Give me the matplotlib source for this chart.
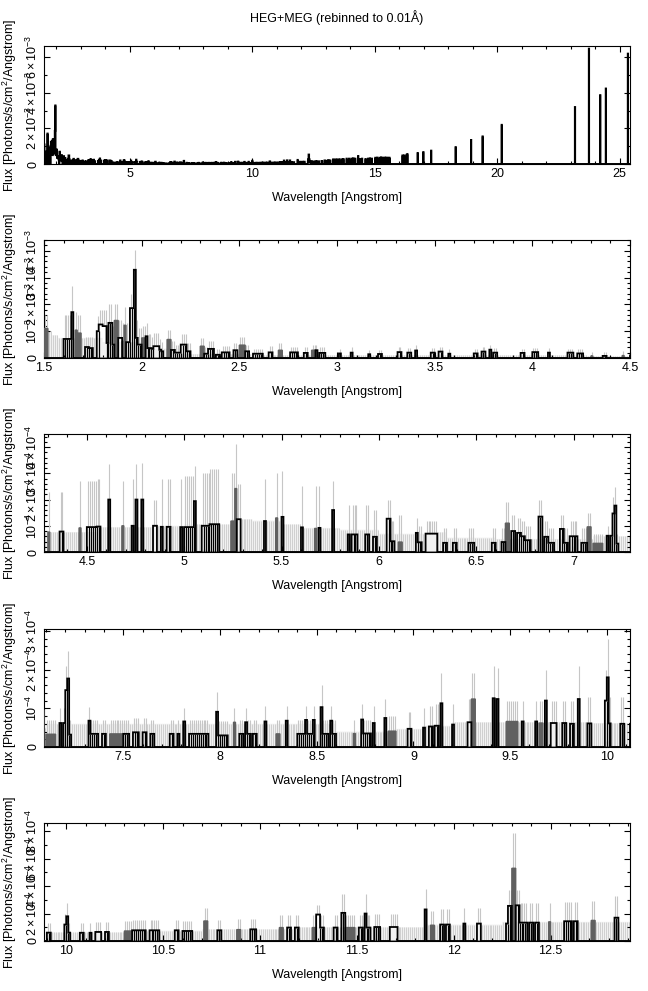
import numpy as np
import matplotlib
matplotlib.use("Agg")
import matplotlib.pyplot as plt
from matplotlib.ticker import MultipleLocator, FuncFormatter

#-------------------------------------------------#
#--------------Fonts / style----------------------#
#-------------------------------------------------#

plt.rcParams['font.family'] = ['Liberation Sans', 'DejaVu Sans']
plt.rcParams['mathtext.fontset'] = 'custom'
plt.rcParams['mathtext.rm'] = 'Liberation Sans'
plt.rcParams['mathtext.it'] = 'Liberation Sans:italic'
plt.rcParams['mathtext.bf'] = 'Liberation Sans:bold'

#-------------------------------------------------#
#--------------Data--------#
#-------------------------------------------------#
# every segment is a run of 0.01 A bins: [lo, hi) at flux val, error bar up to top

# 1.5 - 4.3 A, units of 1e-3
blkA_lo  = [1.60, 1.64, 1.71, 1.73, 1.77, 1.78, 1.80, 1.82, 1.83, 1.85, 1.88, 1.92, 1.94, 1.96, 1.97, 1.98,
            2.02, 2.03, 2.05, 2.06, 2.09, 2.10, 2.15, 2.17, 2.20, 2.23, 2.32, 2.34, 2.38, 2.41, 2.47, 2.53,
            2.57, 2.65, 2.76, 2.83, 2.89, 2.91, 3.01, 3.07, 3.16, 3.21, 3.31, 3.36, 3.40, 3.48, 3.52, 3.57,
            3.70, 3.74, 3.78, 3.80, 3.94, 4.00, 4.08, 4.18, 4.23]
blkA_hi  = [1.64, 1.65, 1.73, 1.75, 1.78, 1.80, 1.82, 1.83, 1.85, 1.86, 1.90, 1.94, 1.96, 1.97, 1.98, 2.00,
            2.03, 2.05, 2.06, 2.09, 2.10, 2.11, 2.17, 2.20, 2.23, 2.25, 2.34, 2.37, 2.40, 2.45, 2.49, 2.55,
            2.62, 2.67, 2.80, 2.85, 2.90, 2.94, 3.02, 3.08, 3.17, 3.23, 3.33, 3.38, 3.41, 3.50, 3.54, 3.58,
            3.72, 3.76, 3.79, 3.82, 3.96, 4.03, 4.09, 4.21, 4.26]
blkA_val = [0.71, 1.71, 0.41, 0.37, 1.00, 1.25, 1.19, 0.56, 1.31, 0.50, 0.75, 0.59, 1.86, 3.29, 0.75, 0.50,
            0.81, 0.37, 0.34, 0.44, 0.31, 0.25, 0.30, 0.20, 0.50, 0.25, 0.16, 0.34, 0.12, 0.21, 0.29, 0.25,
            0.16, 0.21, 0.21, 0.19, 0.29, 0.19, 0.17, 0.20, 0.14, 0.15, 0.22, 0.20, 0.28, 0.20, 0.24, 0.16,
            0.17, 0.24, 0.31, 0.20, 0.19, 0.22, 0.20, 0.20, 0.17]
blkA_top = [1.60, 2.70, 0.80, 0.80, 1.56, 1.80, 1.80, 1.20, 2.00, 1.20, 1.40, 1.30, 2.40, 4.04, 1.40, 1.10,
            1.30, 0.90, 0.80, 0.95, 0.70, 0.60, 0.65, 0.50, 0.90, 0.55, 0.40, 0.65, 0.35, 0.45, 0.55, 0.50,
            0.35, 0.45, 0.40, 0.40, 0.50, 0.40, 0.35, 0.40, 0.30, 0.30, 0.40, 0.38, 0.50, 0.38, 0.42, 0.32,
            0.32, 0.40, 0.50, 0.36, 0.34, 0.38, 0.36, 0.35, 0.32]
gryA_lo  = [1.50, 1.66, 1.67, 1.86, 1.90, 1.91, 2.00, 2.13, 2.30, 2.50, 2.70, 2.87]
gryA_hi  = [1.52, 1.67, 1.69, 1.88, 1.91, 1.92, 2.02, 2.15, 2.32, 2.53, 2.72, 2.89]
gryA_val = [1.10, 1.04, 0.93, 1.40, 0.62, 1.22, 0.75, 0.69, 0.44, 0.48, 0.29, 0.29]
gryA_top = [1.60, 1.70, 1.60, 2.00, 1.30, 1.90, 1.20, 1.06, 0.75, 0.80, 0.55, 0.50]

# 4.3 - 7.1 A, units of 1e-4
blkB_lo  = [4.36, 4.50, 4.55, 4.61, 4.73, 4.75, 4.78, 4.84, 4.88, 4.91, 4.98, 5.00, 5.05, 5.09, 5.13, 5.27,
            5.41, 5.50, 5.60, 5.69, 5.76, 5.84, 5.86, 5.93, 5.97, 6.04, 6.06, 6.19, 6.20, 6.24, 6.33, 6.38,
            6.46, 6.58, 6.63, 6.68, 6.71, 6.73, 6.75, 6.82, 6.85, 6.87, 6.93, 6.95, 6.98, 7.04]
blkB_hi  = [4.38, 4.55, 4.57, 4.62, 4.74, 4.76, 4.79, 4.86, 4.89, 4.93, 4.99, 5.05, 5.06, 5.13, 5.18, 5.29,
            5.42, 5.51, 5.61, 5.70, 5.77, 5.85, 5.89, 5.95, 5.99, 6.06, 6.08, 6.20, 6.22, 6.30, 6.35, 6.40,
            6.49, 6.60, 6.65, 6.70, 6.73, 6.75, 6.78, 6.84, 6.87, 6.90, 6.95, 6.97, 7.02, 7.07]
blkB_val = [0.78, 0.95, 0.97, 2.00, 1.00, 2.00, 2.00, 1.00, 0.96, 0.96, 0.95, 0.95, 1.94, 1.00, 1.06, 1.25,
            1.18, 1.34, 0.94, 0.92, 1.60, 0.67, 0.67, 0.67, 0.58, 1.27, 0.41, 0.73, 0.37, 0.70, 0.35, 0.35,
            0.35, 0.35, 0.38, 0.80, 0.73, 0.60, 0.45, 1.35, 0.58, 0.35, 0.88, 0.35, 0.60, 0.35]
blkB_top = [2.30, 2.70, 2.80, 3.36, 2.80, 3.36, 3.40, 2.00, 2.80, 2.80, 2.80, 2.90, 3.27, 3.00, 3.15, 2.60,
            2.80, 3.10, 2.50, 2.50, 2.70, 1.80, 1.80, 1.80, 1.60, 1.97, 1.20, 1.30, 1.00, 1.20, 0.90, 0.90,
            0.90, 0.90, 0.90, 1.40, 1.30, 1.20, 1.00, 1.97, 1.20, 0.90, 1.40, 0.90, 1.20, 0.90]
gryB_lo  = [4.30, 4.46, 4.68, 5.24, 5.26, 5.47, 5.67, 6.10, 6.65, 7.07]
gryB_hi  = [4.31, 4.47, 4.69, 5.26, 5.27, 5.48, 5.68, 6.12, 6.67, 7.09]
gryB_val = [0.76, 0.92, 1.00, 1.18, 2.42, 1.30, 0.90, 0.38, 1.10, 0.96]
gryB_top = [2.30, 2.70, 2.70, 3.00, 4.10, 3.00, 2.50, 1.40, 1.90, 1.50]

# 7.1 - 9.9 A, units of 1e-4
blkC_lo  = [7.17, 7.19, 7.20, 7.21, 7.22, 7.32, 7.33, 7.39, 7.50, 7.55, 7.60, 7.64, 7.74, 7.78, 7.81, 7.84,
            7.98, 7.99, 8.10, 8.13, 8.14, 8.17, 8.23, 8.34, 8.40, 8.44, 8.45, 8.48, 8.52, 8.53, 8.57, 8.58,
            8.73, 8.74, 8.79, 8.85, 8.97, 9.05, 9.08, 9.11, 9.14, 9.20, 9.28, 9.41, 9.43, 9.56, 9.63, 9.68,
            9.71, 9.77, 9.81, 9.85]
blkC_hi  = [7.18, 7.20, 7.21, 7.22, 7.23, 7.33, 7.37, 7.41, 7.53, 7.58, 7.62, 7.66, 7.76, 7.79, 7.82, 7.94,
            7.99, 8.04, 8.12, 8.14, 8.16, 8.19, 8.24, 8.35, 8.44, 8.45, 8.48, 8.49, 8.53, 8.56, 8.58, 8.60,
            8.74, 8.78, 8.80, 8.86, 8.99, 9.06, 9.10, 9.13, 9.15, 9.21, 9.30, 9.42, 9.44, 9.57, 9.64, 9.69,
            9.74, 9.79, 9.83, 9.86]
blkC_val = [0.62, 0.62, 1.47, 1.77, 0.32, 0.68, 0.34, 0.34, 0.34, 0.38, 0.38, 0.34, 0.34, 0.34, 0.66, 0.34,
            0.91, 0.30, 0.34, 0.64, 0.34, 0.34, 0.66, 0.68, 0.34, 0.70, 0.34, 0.70, 1.03, 0.34, 0.68, 0.34,
            0.71, 0.35, 0.62, 0.75, 0.47, 0.50, 0.53, 0.55, 1.13, 0.58, 0.64, 1.26, 1.24, 0.66, 0.66, 1.20,
            0.62, 0.62, 0.60, 1.24]
blkC_top = [1.00, 1.00, 2.10, 2.48, 0.70, 1.04, 0.70, 0.70, 0.70, 0.75, 0.75, 0.70, 0.70, 0.70, 1.00, 0.70,
            1.43, 0.68, 0.70, 1.00, 0.70, 0.70, 1.05, 1.05, 0.70, 1.05, 0.70, 1.05, 1.60, 0.70, 1.05, 0.70,
            1.10, 0.70, 1.05, 1.25, 0.90, 1.00, 1.05, 1.10, 1.90, 1.10, 1.25, 2.10, 2.05, 1.20, 1.20, 2.00,
            1.20, 1.20, 1.20, 2.10]
gryC_lo  = [7.10, 7.43, 8.07, 8.29, 8.69, 8.87, 9.30, 9.48, 9.65]
gryC_hi  = [7.15, 7.50, 8.08, 8.31, 8.70, 8.91, 9.32, 9.54, 9.67]
gryC_val = [0.33, 0.34, 0.64, 0.34, 0.35, 0.41, 1.24, 0.66, 0.62]
gryC_top = [0.70, 0.70, 1.00, 0.70, 0.70, 0.80, 1.90, 1.20, 1.20]

# 9.9 - 12.9 A, units of 1e-4
blkD_lo  = [9.90, 9.99, 10.00, 10.01, 10.07, 10.12, 10.15, 10.20, 10.34, 10.43, 10.56, 10.60, 10.78, 10.95,
            11.14, 11.18, 11.29, 11.31, 11.38, 11.42, 11.51, 11.54, 11.55, 11.59, 11.67, 11.85, 11.93, 11.96,
            12.05, 12.12, 12.27, 12.28, 12.32, 12.34, 12.39, 12.42, 12.57, 12.62, 12.83]
blkD_hi  = [9.92, 10.00, 10.01, 10.02, 10.09, 10.13, 10.18, 10.22, 10.41, 10.48, 10.58, 10.65, 10.80, 10.98,
            11.16, 11.20, 11.31, 11.33, 11.40, 11.44, 11.53, 11.55, 11.57, 11.62, 11.71, 11.86, 11.95, 11.98,
            12.06, 12.14, 12.28, 12.30, 12.34, 12.38, 12.41, 12.44, 12.61, 12.64, 12.85]
blkD_val = [0.61, 1.20, 1.80, 0.61, 0.60, 0.60, 0.66, 0.66, 0.78, 0.78, 0.78, 0.73, 0.78, 0.85,
            0.98, 0.98, 1.93, 0.98, 0.98, 2.05, 0.98, 2.00, 0.98, 1.02, 1.02, 2.30, 1.20, 1.20,
            1.27, 1.27, 1.27, 2.56, 2.60, 1.34, 1.34, 1.34, 1.44, 1.44, 1.70]
blkD_top = [1.30, 2.00, 2.78, 1.30, 1.30, 1.30, 1.35, 1.35, 1.50, 1.50, 1.50, 1.45, 1.50, 1.60,
            1.90, 1.90, 2.60, 1.90, 1.90, 3.46, 1.90, 3.40, 1.90, 1.95, 1.95, 3.80, 2.30, 2.30,
            2.40, 2.40, 2.40, 3.70, 3.70, 2.80, 2.80, 2.80, 2.85, 2.85, 3.30]
gryD_lo  = [10.30, 10.71, 10.88, 11.10, 11.27, 11.44, 11.88, 12.30, 12.49, 12.71]
gryD_hi  = [10.34, 10.73, 10.90, 11.12, 11.29, 11.49, 11.90, 12.32, 12.50, 12.73]
gryD_val = [0.73, 1.46, 0.83, 0.98, 0.98, 0.98, 1.15, 5.30, 1.40, 1.50]
gryD_top = [1.45, 2.40, 1.60, 1.90, 1.90, 1.90, 2.20, 7.90, 2.80, 2.90]

# 12.9 - 25.4 A (only in the overview), single bins, units of 1e-3
blkE_lo  = [12.95, 13.02, 13.10, 13.18, 13.30, 13.38, 13.45, 13.55, 13.65, 13.72, 13.85, 13.95, 14.05, 14.12,
            14.20, 14.32, 14.40, 14.48, 14.62, 14.72, 14.80, 14.88, 15.02, 15.10, 15.20, 15.26, 15.32, 15.40,
            15.47, 15.55, 15.60, 16.13, 16.20, 16.30, 16.33, 16.75, 16.98, 17.30, 18.30, 18.93, 19.40, 20.18,
            23.17, 23.74, 24.20, 24.43, 25.33]
blkE_val = [0.20, 0.18, 0.22, 0.20, 0.26, 0.25, 0.26, 0.27, 0.26, 0.28, 0.30, 0.30, 0.30, 0.32,
            0.30, 0.45, 0.28, 0.30, 0.28, 0.30, 0.32, 0.30, 0.35, 0.36, 0.35, 0.37, 0.35, 0.36,
            0.36, 0.35, 0.35, 0.48, 0.48, 0.52, 0.55, 0.62, 0.67, 0.75, 0.95, 1.35, 1.55, 2.20,
            3.20, 6.48, 3.87, 4.24, 6.20]

# runs of bins drawn as one open box (no inner bin edges)
open_lo = [1.78, 1.80, 1.88, 2.06, 4.84, 5.27, 6.24, 9.28, 9.71, 9.91, 10.15, 11.29, 11.67, 12.12]
open_hi = [1.80, 1.82, 1.90, 2.09, 4.86, 5.29, 6.30, 9.30, 9.74, 9.94, 10.18, 11.31, 11.71, 12.14]

# upper error level of the empty bins
band_lo  = [1.52, 1.54, 1.57, 1.60, 1.80, 2.00, 2.20, 2.60, 4.28, 4.55, 4.85, 5.00, 5.25, 5.35, 5.50, 5.60,
            5.80, 6.00, 6.25, 6.35, 6.60, 7.10, 8.60, 8.90, 9.05, 9.20, 9.90, 10.30, 10.70, 11.20, 11.85, 12.25]
band_hi  = [1.54, 1.57, 1.60, 1.80, 2.00, 2.20, 2.60, 4.28, 4.55, 4.85, 5.00, 5.25, 5.35, 5.50, 5.60, 5.80,
            6.00, 6.25, 6.35, 6.60, 7.10, 8.60, 8.90, 9.05, 9.20, 9.90, 10.30, 10.70, 11.20, 11.85, 12.25, 12.95]
band_lvl = [1.0e-3, 0.85e-3, 0.75e-3, 0.75e-3, 0.6e-3, 0.35e-3, 0.15e-3, 0.1e-3, 0.76e-4, 0.95e-4, 1.0e-4,
            1.05e-4, 1.25e-4, 1.2e-4, 1.05e-4, 0.92e-4, 0.85e-4, 0.7e-4, 0.75e-4, 0.55e-4, 0.5e-4, 0.6e-4,
            0.4e-4, 0.47e-4, 0.55e-4, 0.64e-4, 0.62e-4, 0.75e-4, 0.85e-4, 1.0e-4, 1.2e-4, 1.4e-4]

#-------------------------------------------------#
#--------------Build the 0.01 A histogram---------#
#-------------------------------------------------#

edges = np.arange(150, 2551) / 100.0
centers = edges[:-1] + 0.005
nbin = len(centers)

def idx(w):
    return int(round(w * 100)) - 150

blk_lo = blkA_lo + blkB_lo + blkC_lo + blkD_lo + blkE_lo
blk_hi = blkA_hi + blkB_hi + blkC_hi + blkD_hi + [w + 0.01 for w in blkE_lo]
blk_val = [v * 1e-3 for v in blkA_val] + [v * 1e-4 for v in blkB_val + blkC_val + blkD_val] + [v * 1e-3 for v in blkE_val]
blk_top = [v * 1e-3 for v in blkA_top] + [v * 1e-4 for v in blkB_top + blkC_top + blkD_top] + [v * 1e-3 for v in blkE_val]
gry_lo = gryA_lo + gryB_lo + gryC_lo + gryD_lo
gry_hi = gryA_hi + gryB_hi + gryC_hi + gryD_hi
gry_val = [v * 1e-3 for v in gryA_val] + [v * 1e-4 for v in gryB_val + gryC_val + gryD_val]
gry_top = [v * 1e-3 for v in gryA_top] + [v * 1e-4 for v in gryB_top + gryC_top + gryD_top]

def fill(lo, hi, val):
    h = np.zeros(nbin)
    for a, b, v in zip(lo, hi, val):
        h[idx(a):idx(b)] = v
    return h

blk = fill(blk_lo, blk_hi, blk_val)
blk_err = fill(blk_lo, blk_hi, blk_top)
gry = fill(gry_lo, gry_hi, gry_val)
gry_err = fill(gry_lo, gry_hi, gry_top)
band = fill(band_lo, band_hi, band_lvl)
opn = fill(open_lo, open_hi, [1] * len(open_lo)) > 0
empty = (blk == 0) & (gry == 0) & (band > 0)

# inner bin edges of the black histogram (drawn down to zero, gives the striped look)
inner = (blk[:-1] > 0) & (blk[1:] > 0) & ~(opn[:-1] & opn[1:])
inner_x = edges[1:-1][inner]
inner_h = np.minimum(blk[:-1], blk[1:])[inner]

#-------------------------------------------------#
#--------------Plotting---------------------------#
#-------------------------------------------------#

panels = [
    dict(xlim=(1.5, 25.42), ylim=(0, 6.63e-3), xmaj=5, xmin=1, ymaj=2e-3, ymin=1e-3,
         ylab=['0', r'$2\times10^{-3}$', r'$4\times10^{-3}$', r'$6\times10^{-3}$'], errs=False),
    dict(xlim=(1.5, 4.5), ylim=(0, 4.4e-3), xmaj=0.5, xmin=0.1, ymaj=1e-3, ymin=0.2e-3,
         ylab=['0', r'$10^{-3}$', r'$2\times10^{-3}$', r'$3\times10^{-3}$', r'$4\times10^{-3}$'], errs=True),
    dict(xlim=(4.28, 7.29), ylim=(0, 4.5e-4), xmaj=0.5, xmin=0.1, ymaj=1e-4, ymin=0.2e-4,
         ylab=['0', r'$10^{-4}$', r'$2\times10^{-4}$', r'$3\times10^{-4}$', r'$4\times10^{-4}$'], errs=True),
    dict(xlim=(7.09, 10.12), ylim=(0, 3.05e-4), xmaj=0.5, xmin=0.1, ymaj=1e-4, ymin=0.2e-4,
         ylab=['0', r'$10^{-4}$', r'$2\times10^{-4}$', r'$3\times10^{-4}$'], errs=True),
    dict(xlim=(9.885, 12.91), ylim=(0, 8.6e-4), xmaj=0.5, xmin=0.1, ymaj=2e-4, ymin=1e-4,
         ylab=['0', r'$2\times10^{-4}$', r'$4\times10^{-4}$', r'$6\times10^{-4}$', r'$8\times10^{-4}$'], errs=True),
]

W, H = 648, 991
fig = plt.figure(figsize=(W / 100, H / 100), dpi=100)
bottoms = [164, 358, 552, 747, 941]

for p, b in zip(panels, bottoms):
    ax = fig.add_axes([44 / W, 1 - b / H, 586 / W, 118 / H])
    lo, hi = p['xlim']
    if p['errs']:
        m = empty & (centers > lo - 0.01) & (centers < hi + 0.01)
        ax.stairs(band, edges, fill=True, color='#f1f1f1', lw=0, zorder=0)
        ax.vlines(centers[m], 0, band[m], color='#cfcfcf', lw=0.7, zorder=1)
        for h, e in [(blk, blk_err), (gry, gry_err)]:
            m = (h > 0) & (centers > lo - 0.01) & (centers < hi + 0.01)
            ax.vlines(centers[m], h[m], e[m], color='#c6c6c6', lw=0.8, zorder=2)
        m = gry > 0
        ax.bar(centers[m], gry[m], width=0.01, color='#606060', lw=0, zorder=3)
        ax.stairs(gry, edges, color='#606060', lw=1.0, zorder=3)
        ax.vlines(inner_x, 0, inner_h, color='black', lw=0.9, zorder=4)
        ax.stairs(blk, edges, color='black', lw=1.3, zorder=4)
    else:
        ax.stairs(np.maximum(blk, gry), edges, color='black', lw=1.4, zorder=4)

    ax.set_xlim(lo, hi)
    ax.set_ylim(*p['ylim'])
    ax.xaxis.set_major_locator(MultipleLocator(p['xmaj']))
    ax.xaxis.set_minor_locator(MultipleLocator(p['xmin']))
    ax.xaxis.set_major_formatter(FuncFormatter(lambda v, pos: '%g' % round(v, 3)))
    ax.set_yticks([i * p['ymaj'] for i in range(len(p['ylab']))])
    ax.set_yticklabels(p['ylab'], rotation=90, va='center')
    ax.yaxis.set_minor_locator(MultipleLocator(p['ymin']))
    ax.tick_params(which='both', direction='in', top=True, right=True, labelsize=9, width=0.8)
    ax.tick_params(which='major', length=4.5)
    ax.tick_params(which='minor', length=2.5)
    ax.tick_params(axis='x', pad=3)
    ax.tick_params(axis='y', pad=3)
    for s in ax.spines.values():
        s.set_linewidth(0.8)

    ax.set_xlabel('Wavelength [Angstrom]', fontsize=9)
    ax.xaxis.set_label_coords(0.5, -0.24)
    ax.set_ylabel('Flux [Photons/s/cm$^2$/Angstrom]', fontsize=9)
    ax.yaxis.set_label_coords(-0.043, 0.5)

fig.text(337 / W, 1 - 18 / H, 'HEG+MEG (rebinned to 0.01Å)', ha='center', va='center', fontsize=9)

fig.savefig('out.png', dpi=100)
